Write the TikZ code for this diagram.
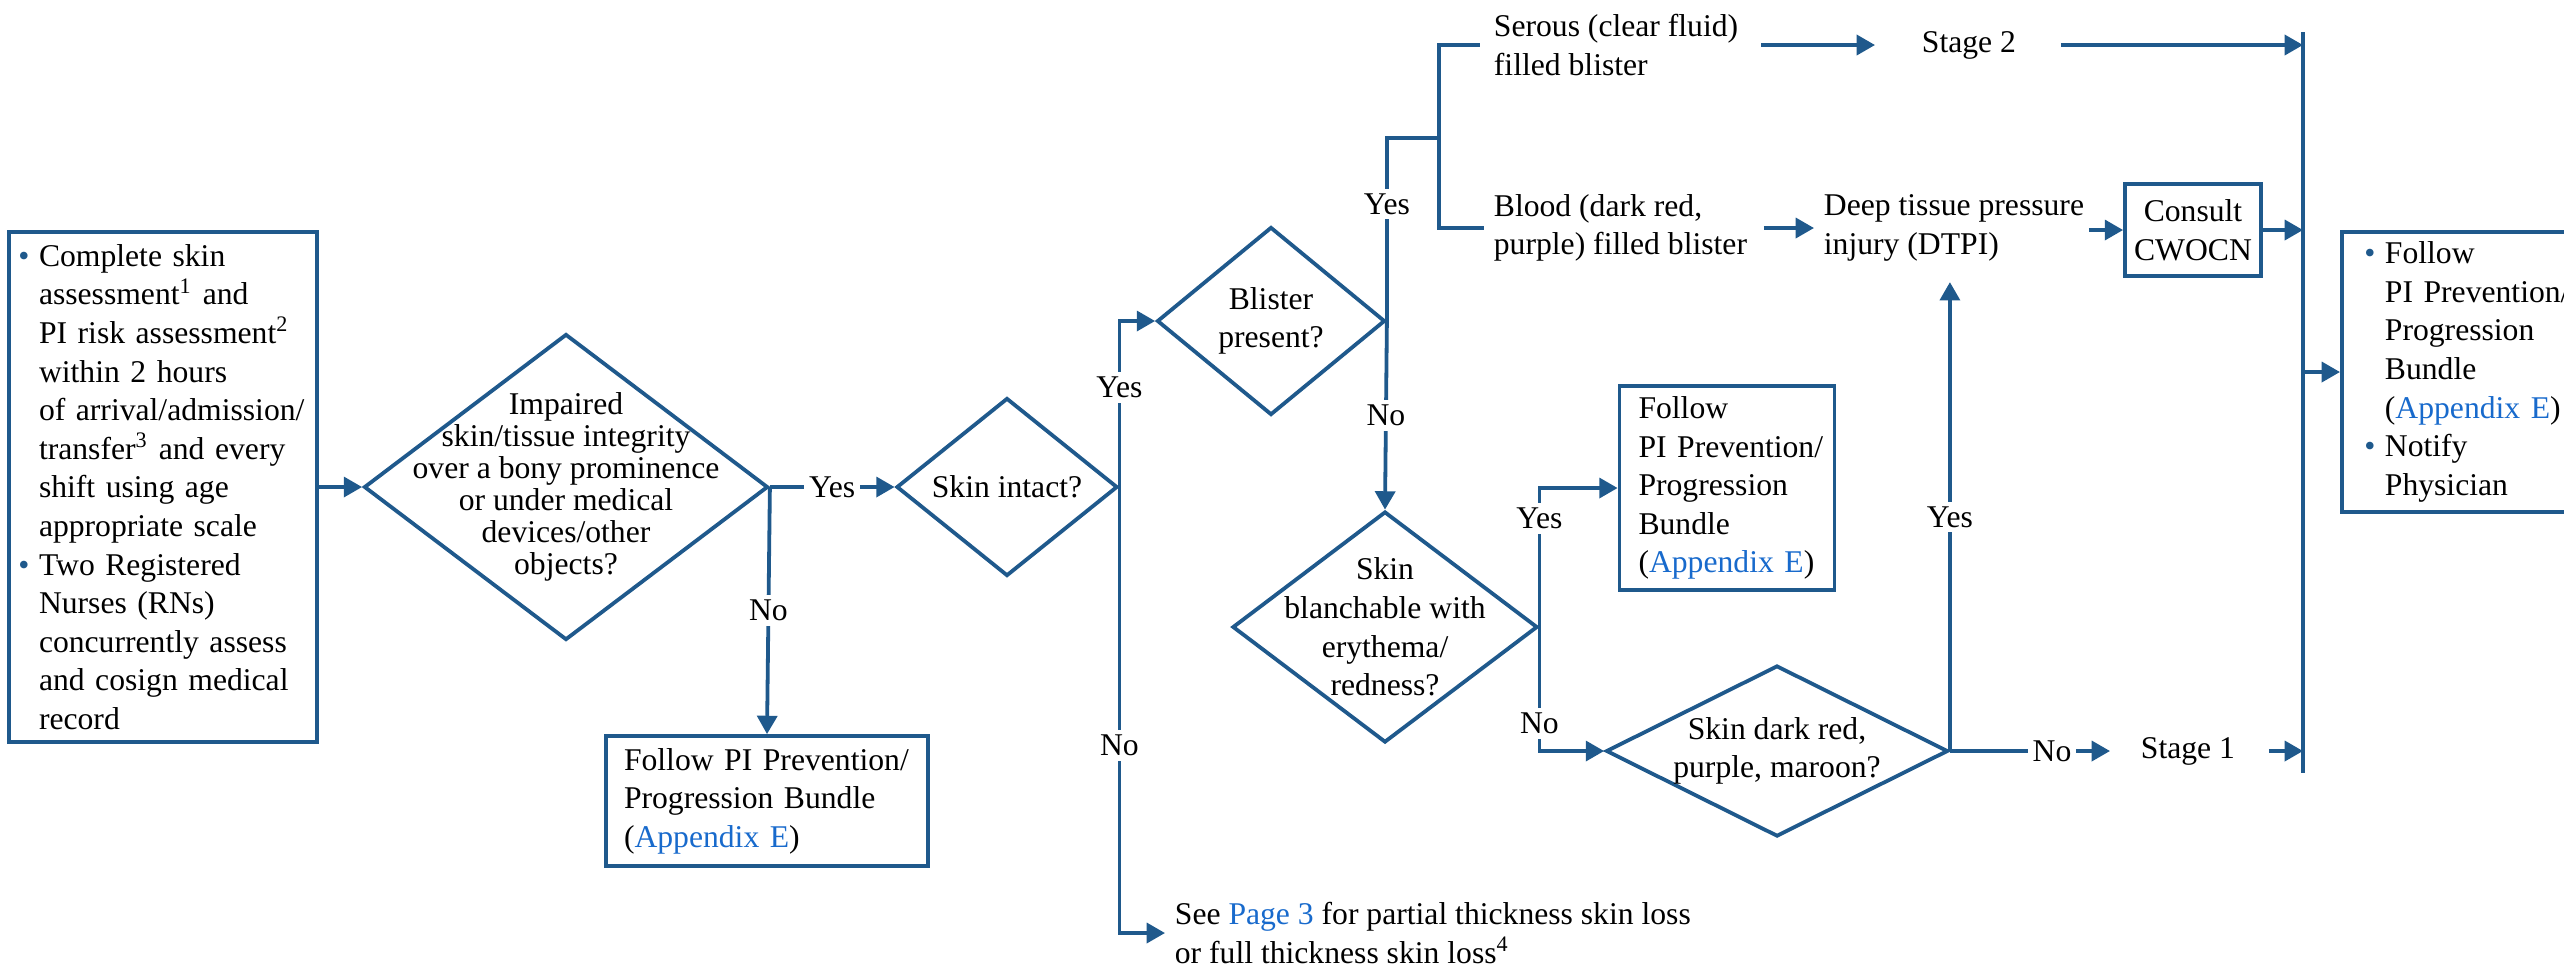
\documentclass[tikz,border=0pt]{standalone}
\usepackage{fontspec}
\setmainfont{Liberation Serif}
\usetikzlibrary{arrows.meta,shapes.geometric}
\definecolor{piblue}{RGB}{31,89,140}
\definecolor{linkblue}{RGB}{24,106,204}
\hyphenpenalty=10000
\exhyphenpenalty=10000
\newcommand{\pxu}{0.316pt}
\newcommand{\pidot}{\leavevmode\llap{\textcolor{piblue}{\textbullet}\hspace{3pt}}}
\newcommand{\lnk}[1]{\textcolor{linkblue}{#1}}
\begin{document}
\begin{tikzpicture}[x=\pxu,y=-\pxu,line width=1.2pt,>={Triangle[length=5.8pt,width=6.3pt]},
    every node/.style={font=\fontsize{10}{12.2}\selectfont},
    box/.style={draw=piblue,align=left,inner ysep=0pt},
    dia/.style 2 args={diamond,draw=piblue,inner sep=0pt,minimum width=#1*\pxu,minimum height=#2*\pxu},
    dtext/.style={align=center,inner sep=0pt},
    txt/.style={align=left,inner sep=0pt,anchor=west},
    lbl/.style={fill=white,inner sep=1.5pt},
    con/.style={draw=piblue,->},
    ln/.style={draw=piblue}]
\useasboundingbox (0,0) rectangle (2564,965);
\clip (0,0) rectangle (2564,965);
% boxes and decisions
\node[box,text width=248*\pxu,inner xsep=30*\pxu,minimum height=510*\pxu] (assess) at (163,487)
    {\pidot Complete skin\\assessment\textsuperscript{1} and\\PI~risk~assessment\textsuperscript{2}\\within 2 hours\\of~arrival/admission/\\transfer\textsuperscript{3} and~every\\shift using age\\appropriate~scale\\\pidot Two~Registered\\Nurses (RNs)\\concurrently~assess\\and~cosign~medical\\record};
\node[dia={404}{306},label={[dtext,font=\fontsize{10}{10.1}\selectfont]center:{Impaired\\skin/tissue integrity\\over a bony prominence\\or under medical\\devices/other\\objects?}}] (impair) at (566,487) {};
\node[box,text width=286*\pxu,inner xsep=18*\pxu,minimum height=130*\pxu] (follow1) at (767,801)
    {Follow~PI~Prevention/\\Progression Bundle\\(\lnk{Appendix~E})};
\node[dia={221}{178},label={[dtext]center:{Skin intact?}}] (intact) at (1007,487) {};
\node[txt] (seepage) at (1173,933) {See \lnk{Page 3} for partial thickness skin loss\\or full thickness skin loss\textsuperscript{4}};
\node[dia={228}{188},label={[dtext]center:{Blister\\present?}}] (blister) at (1271,321) {};
\node[txt] (serous) at (1492,45) {Serous (clear fluid)\\filled blister};
\node[txt] (blood) at (1492,228) {Blood (dark red,\\purple) filled blister};
\node[txt] (stage2) at (1920,45) {Stage 2};
\node[txt] (dtpi) at (1822,228) {Deep tissue pressure\\injury (DTPI)};
\node[box,align=center,inner xsep=0pt,minimum width=136*\pxu,minimum height=92*\pxu] (consult) at (2193,230) {Consult\\CWOCN};
\node[dia={305}{231},label={[dtext]center:{Skin\\blanchable with\\erythema/\\redness?}}] (blanch) at (1385,627) {};
\node[box,text width=177*\pxu,inner xsep=19*\pxu,minimum height=204*\pxu] (follow2) at (1727,488)
    {Follow\\PI~Prevention/\\Progression\\Bundle\\(\lnk{Appendix~E})};
\node[dia={342}{171},label={[dtext]center:{Skin dark red,\\purple, maroon?}}] (darkred) at (1777,751) {};
\node[txt] (stage1) at (2139,751) {Stage 1};
\node[box,anchor=west,text width=214*\pxu,inner xsep=43*\pxu,minimum height=280*\pxu] (final) at (2340,372)
    {\pidot Follow\\PI~Prevention/\\Progression\\Bundle\\(\lnk{Appendix~E})\\\pidot Notify\\Physician};
\coordinate (bartop) at (2303,32);
\coordinate (barbot) at (2303,773);
\coordinate (fork) at (1439,138);
% connectors
\draw[con] (assess.east) -- (impair.west);
\draw[con] (impair.east) -- node[lbl] (y1) {Yes} (intact.west);
\draw[con] (impair.east) -- node[lbl] (n1) {No} (follow1.north);
\draw[con] (intact.east) |- node[lbl,pos=0.3] (y2) {Yes} (blister.west);
\draw[con,shorten >=8*\pxu] (intact.east) |- node[lbl,pos=0.29] (n2) {No} (seepage.west);
\draw[ln] (blister.east) |- node[lbl,pos=0.32] (y3) {Yes} (fork);
\draw[ln,shorten >=12*\pxu] (fork) |- (serous.west);
\draw[ln,shorten >=8*\pxu] (fork) |- (blood.west);
\draw[con] (blister.east) -- node[lbl] (n3) {No} (blanch.north);
\draw[con] (blanch.east) |- node[lbl,pos=0.39] (y4) {Yes} (follow2.west);
\draw[con] (blanch.east) |- node[lbl,pos=0.39] (n4) {No} (darkred.west);
\draw[con,shorten >=19*\pxu] (darkred.east) -- node[lbl,pos=0.48] (y5) {Yes} (darkred.east |- dtpi.south);
\draw[con,shorten >=29*\pxu] (darkred.east) -- node[lbl,pos=0.54] (n5) {No} (stage1.west);
\draw[con,shorten <=21*\pxu,shorten >=45*\pxu] (serous.east) -- (serous.east -| stage2.west);
\draw[con,shorten <=15*\pxu,shorten >=8*\pxu] (blood.east) -- (blood.east -| dtpi.west);
\draw[con,shorten <=3*\pxu] (consult.west -| dtpi.east) -- (consult.west);
\draw[con,shorten <=43*\pxu] (stage2.east) -- (stage2.east -| bartop);
\draw[con] (consult.east) -- (consult.east -| bartop);
\draw[con,shorten <=32*\pxu] (stage1.east) -- (stage1.east -| bartop);
\draw[ln] (bartop) -- (barbot);
\draw[con] (final.west -| bartop) -- (final.west);
\end{tikzpicture}
\end{document}
